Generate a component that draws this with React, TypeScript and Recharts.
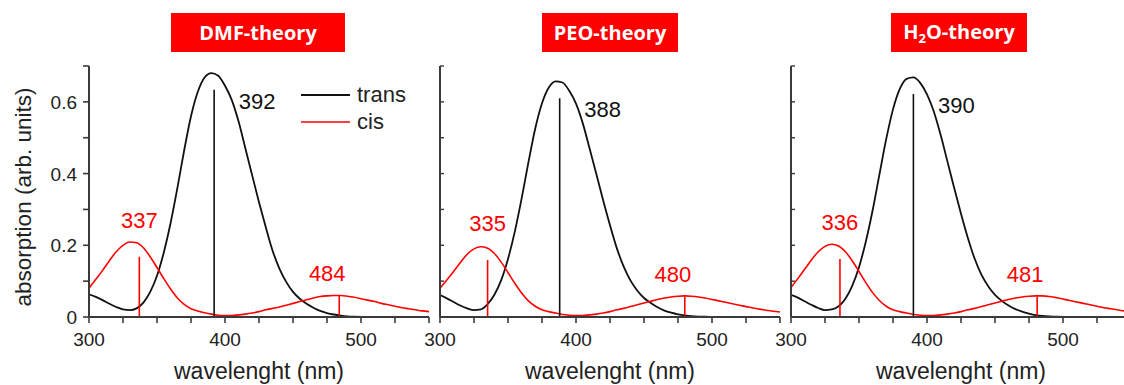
import { LineChart, Line, XAxis, YAxis, ReferenceLine, ReferenceDot } from "recharts";

const WAVELENGTHS = [
  300, 305, 310, 315, 320, 325, 330, 335, 340, 345,
  350, 355, 360, 365, 370, 375, 380, 385, 390, 395,
  400, 405, 410, 415, 420, 425, 430, 435, 440, 445,
  450, 455, 460, 465, 470, 475, 480, 485, 490, 495,
  500, 505, 510, 515, 520, 525, 530, 535, 540, 545, 550,
];

// trans spectra stop at 500 nm
const DMF_TRANS = [
  0.063, 0.056, 0.047, 0.037, 0.028, 0.021, 0.019, 0.024, 0.04, 0.07,
  0.115, 0.18, 0.262, 0.36, 0.465, 0.56, 0.628, 0.668, 0.68, 0.673,
  0.645, 0.605, 0.545, 0.47, 0.395, 0.32, 0.25, 0.185, 0.135, 0.098,
  0.07, 0.051, 0.037, 0.026, 0.017, 0.011, 0.007, 0.004, 0.002, 0.001, 0.0005,
];
const DMF_CIS = [
  0.08, 0.105, 0.13, 0.157, 0.182, 0.2, 0.209, 0.207, 0.193, 0.168,
  0.138, 0.107, 0.078, 0.053, 0.035, 0.023, 0.017, 0.012, 0.008, 0.005,
  0.004, 0.004, 0.006, 0.008, 0.011, 0.015, 0.02, 0.024, 0.028, 0.033,
  0.038, 0.043, 0.048, 0.053, 0.057, 0.059, 0.06, 0.06, 0.058, 0.055,
  0.051, 0.047, 0.043, 0.038, 0.034, 0.03, 0.026, 0.023, 0.02, 0.017, 0.015,
];

const PEO_TRANS = [
  0.061, 0.052, 0.042, 0.032, 0.024, 0.019, 0.021, 0.036, 0.062, 0.103,
  0.162, 0.238, 0.33, 0.431, 0.525, 0.596, 0.64, 0.657, 0.654, 0.631,
  0.595, 0.54, 0.47, 0.398, 0.325, 0.256, 0.192, 0.141, 0.102, 0.074,
  0.053, 0.039, 0.027, 0.018, 0.012, 0.0075, 0.0045, 0.0025, 0.0013, 0.0007, 0.0003,
];
const PEO_CIS = [
  0.08, 0.103, 0.127, 0.152, 0.175, 0.19, 0.196, 0.192, 0.177, 0.153,
  0.124, 0.094, 0.067, 0.045, 0.03, 0.02, 0.015, 0.011, 0.007, 0.005,
  0.004, 0.004, 0.006, 0.008, 0.011, 0.015, 0.02, 0.024, 0.029, 0.034,
  0.039, 0.044, 0.049, 0.053, 0.056, 0.058, 0.059, 0.058, 0.056, 0.053,
  0.049, 0.045, 0.041, 0.037, 0.033, 0.029, 0.025, 0.022, 0.019, 0.016, 0.014,
];

const H2O_TRANS = [
  0.062, 0.054, 0.044, 0.034, 0.025, 0.019, 0.021, 0.03, 0.051, 0.087,
  0.139, 0.21, 0.297, 0.397, 0.496, 0.579, 0.636, 0.664, 0.668, 0.653,
  0.621, 0.573, 0.508, 0.434, 0.36, 0.288, 0.221, 0.163, 0.118, 0.086,
  0.062, 0.045, 0.032, 0.022, 0.015, 0.0097, 0.0055, 0.003, 0.0016, 0.0008, 0.0004,
];
const H2O_CIS = [
  0.082, 0.107, 0.133, 0.159, 0.182, 0.197, 0.203, 0.198, 0.182, 0.157,
  0.127, 0.096, 0.068, 0.046, 0.03, 0.02, 0.015, 0.011, 0.007, 0.005,
  0.004, 0.004, 0.006, 0.008, 0.011, 0.015, 0.02, 0.024, 0.029, 0.034,
  0.039, 0.044, 0.049, 0.053, 0.056, 0.058, 0.059, 0.059, 0.057, 0.054,
  0.05, 0.046, 0.042, 0.038, 0.034, 0.03, 0.026, 0.023, 0.02, 0.017, 0.015,
];

// calculated transitions (first = trans, rest = cis)
const DMF_STICK_POS = [392, 337, 484];
const DMF_STICK_HEIGHT = [0.634, 0.168, 0.059];
const PEO_STICK_POS = [388, 335, 480];
const PEO_STICK_HEIGHT = [0.61, 0.159, 0.057];
const H2O_STICK_POS = [390, 336, 481];
const H2O_STICK_HEIGHT = [0.622, 0.162, 0.057];

const X_TICKS = [300, 325, 350, 375, 400, 425, 450, 475, 500, 525, 550];
const X_LABELS = [300, 400, 500];
const Y_TICKS = [0, 0.1, 0.2, 0.3, 0.4, 0.5, 0.6, 0.7];
const Y_LABELS = [0, 0.2, 0.4, 0.6];

const FRAME = "#3a3a3a";
const RED = "#ff0000";
const BLACK = "#111111";
const FONT = "'Liberation Sans', Arial, sans-serif";
const PLOT_TOP = 66;
const PLOT_BOTTOM = 317;
const PLOT_W = 340;
const CHART_H = 385;

// label offsets from stick tops
const LABEL_OFFSETS = [
  { dx: 43, dy: 19 },
  { dx: 0, dy: -29 },
  { dx: -12, dy: -15 },
];

const buildRows = (trans: number[], cis: number[]) =>
  WAVELENGTHS.map((wl, i) => ({
    wl,
    trans: trans[i] ?? null,
    cis: cis[i] ?? null,
  }));

type PanelProps = {
  left: number;
  axisW: number;
  showY: boolean;
  trans: number[];
  cis: number[];
  stickPos: number[];
  stickHeight: number[];
};

function Panel({ left, axisW, showY, trans, cis, stickPos, stickHeight }: PanelProps) {
  const data = buildRows(trans, cis);
  const plotLeft = axisW;
  const plotRight = axisW + PLOT_W;
  const width = plotRight + 6;

  const bottomTick = (p: any) => {
    const v = p.payload.value;
    return (
      <g>
        <line x1={p.x} x2={p.x} y1={PLOT_BOTTOM} y2={PLOT_BOTTOM + 6} stroke={FRAME} strokeWidth={1.6} />
        {X_LABELS.includes(v) && (
          <text x={p.x} y={PLOT_BOTTOM + 29} textAnchor="middle" fontSize={19} fill="#222" fontFamily={FONT}>
            {v}
          </text>
        )}
      </g>
    );
  };
  const topTick = (p: any) => (
    <line x1={p.x} x2={p.x} y1={PLOT_TOP} y2={PLOT_TOP + 5} stroke={FRAME} strokeWidth={1.6} />
  );
  const leftTick = (p: any) => {
    const v = p.payload.value;
    const labeled = Y_LABELS.some((l) => Math.abs(l - v) < 1e-6);
    return (
      <g>
        {showY ? (
          <line x1={plotLeft - 6} x2={plotLeft} y1={p.y} y2={p.y} stroke={FRAME} strokeWidth={1.6} />
        ) : (
          <line x1={plotLeft} x2={plotLeft + 4} y1={p.y} y2={p.y} stroke={FRAME} strokeWidth={1.4} />
        )}
        {showY && labeled && (
          <text x={plotLeft - 12} y={p.y + 7} textAnchor="end" fontSize={19} fill="#222" fontFamily={FONT}>
            {v === 0 ? "0" : v.toFixed(1)}
          </text>
        )}
      </g>
    );
  };
  const rightTick = (p: any) => (
    <line x1={plotRight - 4} x2={plotRight} y1={p.y} y2={p.y} stroke={FRAME} strokeWidth={1.4} />
  );

  return (
    <div style={{ position: "absolute", left, top: 0 }}>
      <LineChart width={width} height={CHART_H} data={data} margin={{ top: PLOT_TOP, right: 6, bottom: 0, left: 0 }}>
        <XAxis
          dataKey="wl"
          type="number"
          domain={[300, 550]}
          ticks={X_TICKS}
          interval={0}
          allowDataOverflow
          height={CHART_H - PLOT_BOTTOM}
          axisLine={{ stroke: FRAME, strokeWidth: 2 }}
          tickLine={false}
          tick={bottomTick}
        />
        <XAxis
          xAxisId="top"
          orientation="top"
          type="number"
          domain={[300, 550]}
          ticks={X_TICKS}
          interval={0}
          allowDataOverflow
          height={0}
          axisLine={{ stroke: FRAME, strokeWidth: 2 }}
          tickLine={false}
          tick={topTick}
        />
        <YAxis
          type="number"
          domain={[0, 0.7]}
          ticks={Y_TICKS}
          interval={0}
          allowDataOverflow
          width={axisW}
          axisLine={{ stroke: FRAME, strokeWidth: 2 }}
          tickLine={false}
          tick={leftTick}
        />
        <YAxis
          yAxisId="right"
          orientation="right"
          type="number"
          domain={[0, 0.7]}
          ticks={Y_TICKS}
          interval={0}
          allowDataOverflow
          width={0}
          axisLine={{ stroke: FRAME, strokeWidth: 2 }}
          tickLine={false}
          tick={rightTick}
        />
        <Line
          type="monotone"
          dataKey="trans"
          name="trans"
          stroke={BLACK}
          strokeWidth={1.8}
          dot={false}
          isAnimationActive={false}
        />
        <Line
          type="monotone"
          dataKey="cis"
          name="cis"
          stroke={RED}
          strokeWidth={1.6}
          dot={false}
          isAnimationActive={false}
        />
        {stickPos.map((pos, i) => (
          <ReferenceLine
            key={`stick-${i}`}
            segment={[
              { x: pos, y: 0 },
              { x: pos, y: stickHeight[i] },
            ]}
            stroke={i === 0 ? BLACK : RED}
            strokeWidth={1.6}
          />
        ))}
        {stickPos.map((pos, i) => (
          <ReferenceDot
            key={`label-${i}`}
            x={pos}
            y={stickHeight[i]}
            r={0}
            shape={(p: any) => (
              <text
                x={p.cx + LABEL_OFFSETS[i].dx}
                y={p.cy + LABEL_OFFSETS[i].dy}
                textAnchor="middle"
                fontSize={22}
                fontFamily={FONT}
                fill={i === 0 ? BLACK : RED}
              >
                {pos}
              </text>
            )}
          />
        ))}
      </LineChart>
    </div>
  );
}

const titleStyle = (left: number, width: number): React.CSSProperties => ({
  position: "absolute",
  left,
  top: 13,
  width,
  height: 39,
  background: RED,
  color: "#fff",
  fontFamily: "'Open Sans', sans-serif",
  fontWeight: 700,
  fontSize: 20,
  display: "flex",
  alignItems: "center",
  justifyContent: "center",
});

export default function App() {
  return (
    <div
      style={{
        position: "absolute",
        left: 0,
        top: 0,
        width: 1124,
        height: 385,
        overflow: "hidden",
        background: "#fff",
      }}
    >
      <Panel left={0} axisW={89} showY trans={DMF_TRANS} cis={DMF_CIS} stickPos={DMF_STICK_POS} stickHeight={DMF_STICK_HEIGHT} />
      <Panel left={410} axisW={30} showY={false} trans={PEO_TRANS} cis={PEO_CIS} stickPos={PEO_STICK_POS} stickHeight={PEO_STICK_HEIGHT} />
      <Panel left={761} axisW={30} showY={false} trans={H2O_TRANS} cis={H2O_CIS} stickPos={H2O_STICK_POS} stickHeight={H2O_STICK_HEIGHT} />

      <div style={titleStyle(171, 174)}>DMF-theory</div>
      <div style={titleStyle(542, 136)}>PEO-theory</div>
      <div style={titleStyle(891, 136)}>
        <span>
          H<sub style={{ fontSize: 13, verticalAlign: -4 }}>2</sub>O-theory
        </span>
      </div>

      {/* axis titles */}
      <div
        style={{
          position: "absolute",
          left: 24,
          top: 197,
          transform: "translate(-50%, -50%) rotate(-90deg)",
          whiteSpace: "nowrap",
          fontFamily: FONT,
          fontSize: 22.5,
          color: "#222",
        }}
      >
        absorption (arb. units)
      </div>
      {[259, 610, 961].map((cx, i) => (
        <div
          key={`xt-${i}`}
          style={{
            position: "absolute",
            left: cx,
            top: 371,
            transform: "translate(-50%, -50%)",
            whiteSpace: "nowrap",
            fontFamily: FONT,
            fontSize: 23,
            color: "#222",
          }}
        >
          wavelenght (nm)
        </div>
      ))}

      {/* legend */}
      <svg style={{ position: "absolute", left: 295, top: 80 }} width={120} height={60}>
        <line x1={6} x2={55} y1={15} y2={15} stroke={BLACK} strokeWidth={1.8} />
        <line x1={6} x2={55} y1={42} y2={42} stroke={RED} strokeWidth={1.6} />
        <text x={62} y={22} fontSize={22} fontFamily={FONT} fill="#222">trans</text>
        <text x={62} y={49} fontSize={22} fontFamily={FONT} fill="#222">cis</text>
      </svg>
    </div>
  );
}
